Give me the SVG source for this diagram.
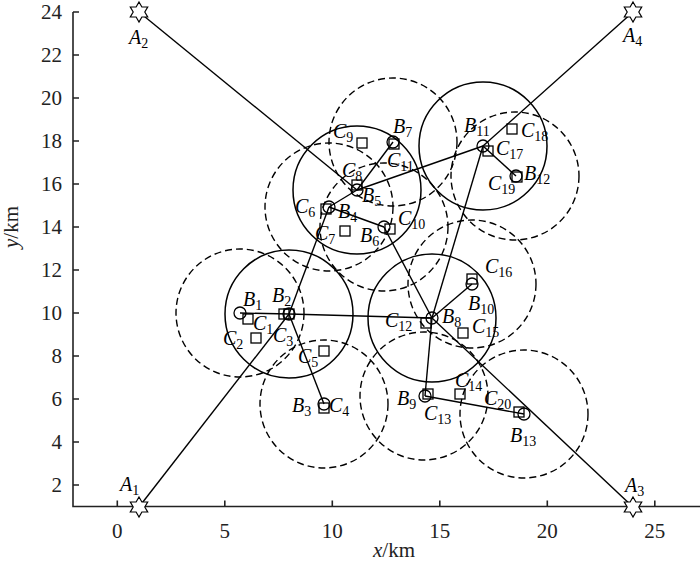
<svg xmlns="http://www.w3.org/2000/svg" width="700" height="562" viewBox="0 0 700 562">
<style>
.ax{stroke:#222;stroke-width:1.6;fill:none}
.tk{font-family:"Liberation Serif",serif;font-size:21px;fill:#222}
.ln{stroke:#000;stroke-width:1.4;fill:none}
.sc{stroke:#000;stroke-width:1.5;fill:none}
.dc{stroke:#000;stroke-width:1.4;fill:none;stroke-dasharray:7,4}
.b{stroke:#000;stroke-width:1.3;fill:none}
.lb{font-family:"Liberation Serif",serif;font-size:20px;font-style:italic;fill:#000}
.sb{font-style:normal;font-size:14px}
</style>
<defs>
<polygon id="star" points="0,-10 2.9,-5 8.7,-5 5.8,0 8.7,5 2.9,5 0,10 -2.9,5 -8.7,5 -5.8,0 -8.7,-5 -2.9,-5" fill="#fff" stroke="#000" stroke-width="1.2"/>
<rect id="sq" x="-5" y="-5" width="10" height="10" fill="none" stroke="#000" stroke-width="1.3"/>
</defs>
<rect width="700" height="562" fill="#fff"/>
<g id="axes">
<path class="ax" d="M73,12 V506.5 H700"/>
<path class="ax" d="M73,12 h6 M73,55 h6 M73,98 h6 M73,141 h6 M73,184 h6 M73,227 h6 M73,270 h6 M73,313 h6 M73,356 h6 M73,399 h6 M73,442 h6 M73,485 h6"/>
<path class="ax" d="M117.3,506.5 v-6 M224.8,506.5 v-6 M332.3,506.5 v-6 M439.8,506.5 v-6 M547.3,506.5 v-6 M654.8,506.5 v-6"/>
<g class="tk" text-anchor="end">
<text x="62" y="19">24</text><text x="62" y="62">22</text><text x="62" y="105">20</text><text x="62" y="148">18</text><text x="62" y="191">16</text><text x="62" y="234">14</text><text x="62" y="277">12</text><text x="62" y="320">10</text><text x="62" y="363">8</text><text x="62" y="406">6</text><text x="62" y="449">4</text><text x="62" y="492">2</text>
</g>
<g class="tk" text-anchor="middle">
<text x="117.3" y="538">0</text><text x="224.8" y="538">5</text><text x="332.3" y="538">10</text><text x="439.8" y="538">15</text><text x="547.3" y="538">20</text><text x="654.8" y="538">25</text>
</g>
<text class="tk" x="394" y="557" text-anchor="middle"><tspan font-style="italic">x</tspan>/km</text>
<text class="tk" transform="translate(18,227) rotate(-90)" text-anchor="middle"><tspan font-style="italic">y</tspan>/km</text>
</g>
<g id="ranges">
<circle class="sc" cx="289" cy="314" r="64"/>
<circle class="sc" cx="357" cy="190" r="64"/>
<circle class="sc" cx="483" cy="146" r="64"/>
<circle class="sc" cx="432" cy="318" r="64"/>
<circle class="dc" cx="240" cy="313" r="64"/>
<circle class="dc" cx="324" cy="404" r="64"/>
<circle class="dc" cx="329" cy="207" r="64"/>
<circle class="dc" cx="393" cy="142" r="64"/>
<circle class="dc" cx="384" cy="227" r="64"/>
<circle class="dc" cx="515" cy="176" r="64"/>
<circle class="dc" cx="472" cy="284" r="64"/>
<circle class="dc" cx="424" cy="396" r="64"/>
<circle class="dc" cx="524" cy="414" r="64"/>
</g>
<g id="connectors">
<line class="ln" x1="139" y1="507" x2="289" y2="314"/>
<line class="ln" x1="240" y1="313" x2="289" y2="314"/>
<line class="ln" x1="289" y1="314" x2="432" y2="318"/>
<line class="ln" x1="289" y1="314" x2="324" y2="404"/>
<line class="ln" x1="289" y1="314" x2="329" y2="207"/>
<line class="ln" x1="329" y1="207" x2="357" y2="190"/>
<line class="ln" x1="329" y1="207" x2="384" y2="227"/>
<line class="ln" x1="139" y1="12" x2="357" y2="190"/>
<line class="ln" x1="357" y1="190" x2="393" y2="142"/>
<line class="ln" x1="357" y1="190" x2="483" y2="146"/>
<line class="ln" x1="384" y1="227" x2="432" y2="318"/>
<line class="ln" x1="432" y1="318" x2="472" y2="284"/>
<line class="ln" x1="432" y1="318" x2="483" y2="146"/>
<line class="ln" x1="432" y1="318" x2="425" y2="396"/>
<line class="ln" x1="432" y1="318" x2="633" y2="507"/>
<line class="ln" x1="425" y1="396" x2="524" y2="414"/>
<line class="ln" x1="483" y1="146" x2="516" y2="176"/>
<line class="ln" x1="483" y1="146" x2="633" y2="12"/>
</g>
<g id="A1"><use href="#star" x="139" y="507"/><text class="lb" x="120" y="491">A<tspan class="sb" dy="4">1</tspan></text></g>
<g id="A2"><use href="#star" x="139" y="12"/><text class="lb" x="129" y="44">A<tspan class="sb" dy="4">2</tspan></text></g>
<g id="A3"><use href="#star" x="633" y="507"/><text class="lb" x="625" y="492">A<tspan class="sb" dy="4">3</tspan></text></g>
<g id="A4"><use href="#star" x="633" y="12"/><text class="lb" x="623" y="42">A<tspan class="sb" dy="4">4</tspan></text></g>
<g id="B1"><circle class="b" cx="240" cy="313" r="6"/><text class="lb" x="243" y="306">B<tspan class="sb" dy="4">1</tspan></text></g>
<g id="B2"><circle class="b" cx="289" cy="314" r="6"/><text class="lb" x="272" y="302">B<tspan class="sb" dy="4">2</tspan></text></g>
<g id="B3"><circle class="b" cx="324" cy="404" r="6"/><text class="lb" x="292" y="412">B<tspan class="sb" dy="4">3</tspan></text></g>
<g id="B4"><circle class="b" cx="329" cy="207" r="6"/><text class="lb" x="338" y="218">B<tspan class="sb" dy="4">4</tspan></text></g>
<g id="B5"><circle class="b" cx="357" cy="190" r="6"/><text class="lb" x="362" y="202">B<tspan class="sb" dy="4">5</tspan></text></g>
<g id="B6"><circle class="b" cx="384" cy="227" r="6"/><text class="lb" x="360" y="242">B<tspan class="sb" dy="4">6</tspan></text></g>
<g id="B7"><circle class="b" cx="393" cy="142" r="6"/><text class="lb" x="393" y="133">B<tspan class="sb" dy="4">7</tspan></text></g>
<g id="B8"><circle class="b" cx="432" cy="318" r="6"/><text class="lb" x="442" y="323">B<tspan class="sb" dy="4">8</tspan></text></g>
<g id="B9"><circle class="b" cx="425" cy="396" r="6"/><text class="lb" x="397" y="405">B<tspan class="sb" dy="4">9</tspan></text></g>
<g id="B10"><circle class="b" cx="472" cy="284" r="6"/><text class="lb" x="468" y="310">B<tspan class="sb" dy="4">10</tspan></text></g>
<g id="B11"><circle class="b" cx="483" cy="146" r="6"/><text class="lb" x="464" y="132">B<tspan class="sb" dy="4">11</tspan></text></g>
<g id="B12"><circle class="b" cx="516" cy="176" r="6"/><text class="lb" x="524" y="180">B<tspan class="sb" dy="4">12</tspan></text></g>
<g id="B13"><circle class="b" cx="524" cy="414" r="6"/><text class="lb" x="510" y="442">B<tspan class="sb" dy="4">13</tspan></text></g>
<g id="C1"><use href="#sq" x="248" y="319"/><text class="lb" x="253" y="330">C<tspan class="sb" dy="4">1</tspan></text></g>
<g id="C2"><use href="#sq" x="256" y="338"/><text class="lb" x="223" y="345">C<tspan class="sb" dy="4">2</tspan></text></g>
<g id="C3"><use href="#sq" x="284" y="314"/><use href="#sq" x="289" y="314"/><text class="lb" x="273" y="342">C<tspan class="sb" dy="4">3</tspan></text></g>
<g id="C4"><use href="#sq" x="324" y="408"/><text class="lb" x="329" y="412">C<tspan class="sb" dy="4">4</tspan></text></g>
<g id="C5"><use href="#sq" x="324" y="351"/><text class="lb" x="298" y="363">C<tspan class="sb" dy="4">5</tspan></text></g>
<g id="C6"><use href="#sq" x="326" y="209"/><text class="lb" x="295" y="213">C<tspan class="sb" dy="4">6</tspan></text></g>
<g id="C7"><use href="#sq" x="345" y="231"/><text class="lb" x="315" y="240">C<tspan class="sb" dy="4">7</tspan></text></g>
<g id="C8"><use href="#sq" x="357" y="185"/><text class="lb" x="342" y="177">C<tspan class="sb" dy="4">8</tspan></text></g>
<g id="C9"><use href="#sq" x="362" y="143"/><text class="lb" x="333" y="138">C<tspan class="sb" dy="4">9</tspan></text></g>
<g id="C10"><use href="#sq" x="390" y="229"/><text class="lb" x="398" y="225">C<tspan class="sb" dy="4">10</tspan></text></g>
<g id="C11"><use href="#sq" x="394" y="144"/><text class="lb" x="387" y="167">C<tspan class="sb" dy="4">11</tspan></text></g>
<g id="C12"><use href="#sq" x="426" y="323"/><text class="lb" x="385" y="327">C<tspan class="sb" dy="4">12</tspan></text></g>
<g id="C13"><use href="#sq" x="428" y="394"/><text class="lb" x="424" y="420">C<tspan class="sb" dy="4">13</tspan></text></g>
<g id="C14"><use href="#sq" x="460" y="394"/><text class="lb" x="455" y="387">C<tspan class="sb" dy="4">14</tspan></text></g>
<g id="C15"><use href="#sq" x="463" y="333"/><text class="lb" x="472" y="333">C<tspan class="sb" dy="4">15</tspan></text></g>
<g id="C16"><use href="#sq" x="472" y="279"/><text class="lb" x="485" y="273">C<tspan class="sb" dy="4">16</tspan></text></g>
<g id="C17"><use href="#sq" x="488" y="151"/><text class="lb" x="496" y="155">C<tspan class="sb" dy="4">17</tspan></text></g>
<g id="C18"><use href="#sq" x="512" y="129"/><text class="lb" x="521" y="137">C<tspan class="sb" dy="4">18</tspan></text></g>
<g id="C19"><use href="#sq" x="517" y="177"/><text class="lb" x="488" y="190">C<tspan class="sb" dy="4">19</tspan></text></g>
<g id="C20"><use href="#sq" x="519" y="412"/><text class="lb" x="484" y="405">C<tspan class="sb" dy="4">20</tspan></text></g>
</svg>
